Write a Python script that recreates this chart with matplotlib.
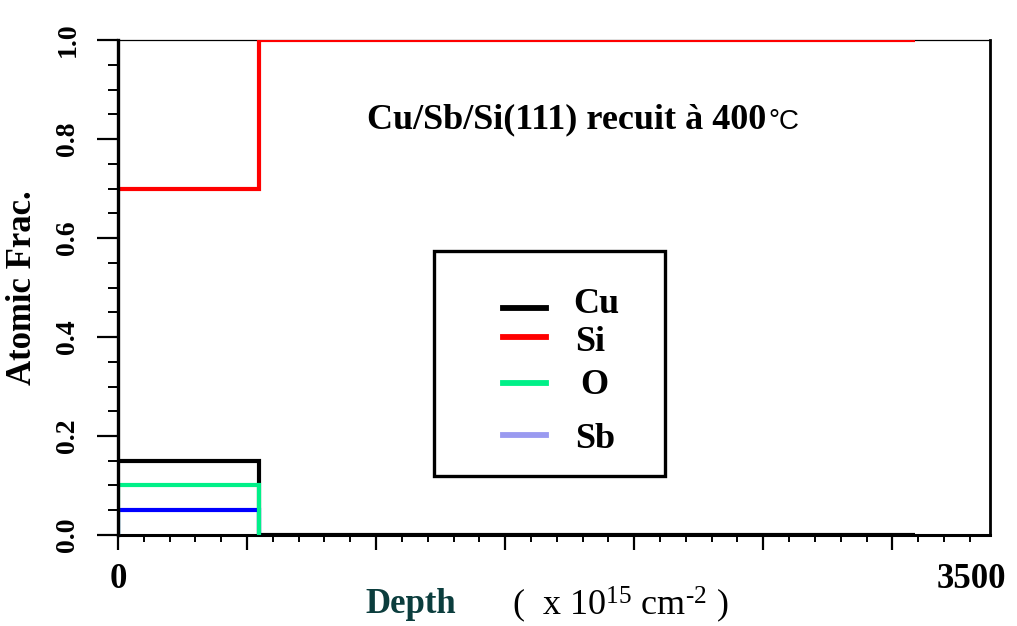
import matplotlib
matplotlib.use("Agg")
import matplotlib.pyplot as plt
from matplotlib.ticker import MultipleLocator, NullFormatter
from matplotlib.lines import Line2D
from matplotlib.patches import Rectangle

# Layer model of the depth profile: two layers, compositions per element
layer_edges = [0, 565, 3200]          # depth, x 10^15 at/cm^2
elements = ["Cu", "Si", "O", "Sb"]
cu = [0.15, 0.00]
si = [0.70, 1.00]
o = [0.10, 0.00]
sb = [0.05, 0.00]
line_colors = {"Cu": "#000000", "Si": "#ff0000", "O": "#00f088", "Sb": "#0000ff"}
legend_colors = {"Cu": "#000000", "Si": "#ff0000", "O": "#00f088", "Sb": "#9a9af0"}
x_range = (0, 3500)
y_range = (0.0, 1.0)
y_ticks = [0.0, 0.2, 0.4, 0.6, 0.8, 1.0]
x_end_labels = ["0", "3500"]
title = "Cu/Sb/Si(111) recuit à 400"

plt.rcParams["mathtext.fontset"] = "custom"
plt.rcParams["mathtext.rm"] = "Liberation Serif"
plt.rcParams["mathtext.it"] = "Liberation Serif:italic"
plt.rcParams["mathtext.bf"] = "Liberation Serif:bold"
serif = "Liberation Serif"

fig = plt.figure(figsize=(10.17, 6.26), dpi=100)
ax = fig.add_axes([0.116, 0.1454, 0.8575, 0.7906])

# Si and Cu run through the whole profile; O and Sb only exist in the
# surface layer, so they are drawn over the layers where they are non-zero
profiles = {"Cu": cu, "Si": si, "O": o, "Sb": sb}
for name in ["Si", "Cu"]:
    ax.stairs(profiles[name], layer_edges, baseline=None,
              color=line_colors[name], linewidth=3.0, zorder=3)
for name in ["Sb", "O"]:
    vals = profiles[name]
    n = max(i + 1 for i, v in enumerate(vals) if v > 0)
    ax.stairs(vals[:n], layer_edges[:n + 1], baseline=0,
              color=line_colors[name], linewidth=3.0, zorder=4)

ax.set_xlim(*x_range)
ax.set_ylim(*y_range)

# Spines: heavy left/bottom, light top
ax.spines["left"].set_linewidth(2.4)
ax.spines["bottom"].set_linewidth(2.2)
ax.spines["top"].set_linewidth(0.9)
ax.spines["right"].set_linewidth(2.0)
ax.spines["left"].set_zorder(5)

# Ticks
ax.xaxis.set_major_locator(MultipleLocator(518))
ax.xaxis.set_minor_locator(MultipleLocator(518 / 5))
ax.xaxis.set_major_formatter(NullFormatter())
ax.tick_params(axis="x", which="major", direction="out", length=11, width=1.6)
ax.tick_params(axis="x", which="minor", direction="out", length=5, width=1.4)

ax.set_yticks(y_ticks)
ax.yaxis.set_minor_locator(MultipleLocator(0.05))
ax.set_yticklabels([f"{v:.1f}" for v in y_ticks], fontfamily=serif,
                   fontweight="bold", fontsize=20, rotation=90, va="center")
ax.tick_params(axis="y", which="major", direction="out", length=15, width=1.6, pad=12)
ax.tick_params(axis="y", which="minor", direction="out", length=7.5, width=1.4)

ax.set_ylabel("Atomic Frac.", fontfamily=serif, fontweight="bold", fontsize=25)
ax.yaxis.set_label_coords(-0.091, 0.499)

# End labels of the depth axis
xt = ax.get_xaxis_transform()
ax.text(x_range[0], -0.09, x_end_labels[0], transform=xt, ha="center", va="center",
        fontfamily=serif, fontweight="bold", fontsize=25)
ax.text(0.979, -0.09, x_end_labels[1], transform=ax.transAxes, ha="center",
        va="center", fontfamily=serif, fontweight="bold", fontsize=25)

# Axis title for depth
fig.text(0.404, 0.034, "Depth", fontfamily=serif, fontweight="bold", fontsize=25,
         color="#0b3d3d", ha="center", va="center")
fig.text(0.610, 0.034, r"(  x 10$^{\mathrm{15}}$ cm$^{\text{-2}}$ )",
         fontfamily=serif, fontsize=26, ha="center", va="center")

# Sample annotation
t = ax.text(0.514, 0.838, title, transform=ax.transAxes, ha="center", va="center",
            fontfamily=serif, fontweight="bold", fontsize=26)
ax.annotate("°C", xy=(1, 0), xycoords=t, xytext=(2, 1), textcoords="offset points",
            ha="left", va="bottom", fontfamily="Liberation Sans", fontsize=20)

# Hand-placed legend box
ax.add_patch(Rectangle((0.362, 0.119), 0.265, 0.455, transform=ax.transAxes,
                       fill=False, edgecolor="black", linewidth=2.4, zorder=4))
line_y = {"Cu": 0.4586, "Si": 0.400, "O": 0.307, "Sb": 0.202}
text_y = {"Cu": 0.465, "Si": 0.388, "O": 0.303, "Sb": 0.192}
text_x = {"Cu": 0.522, "Si": 0.524, "O": 0.530, "Sb": 0.524}
for name in elements:
    ax.add_line(Line2D([0.4415, 0.491], [line_y[name]] * 2, transform=ax.transAxes,
                       color=legend_colors[name], linewidth=4.2, zorder=5))
    ax.text(text_x[name], text_y[name], name, transform=ax.transAxes,
            ha="left", va="center", fontfamily=serif, fontweight="bold", fontsize=26)

fig.savefig("out.png", dpi=100)
